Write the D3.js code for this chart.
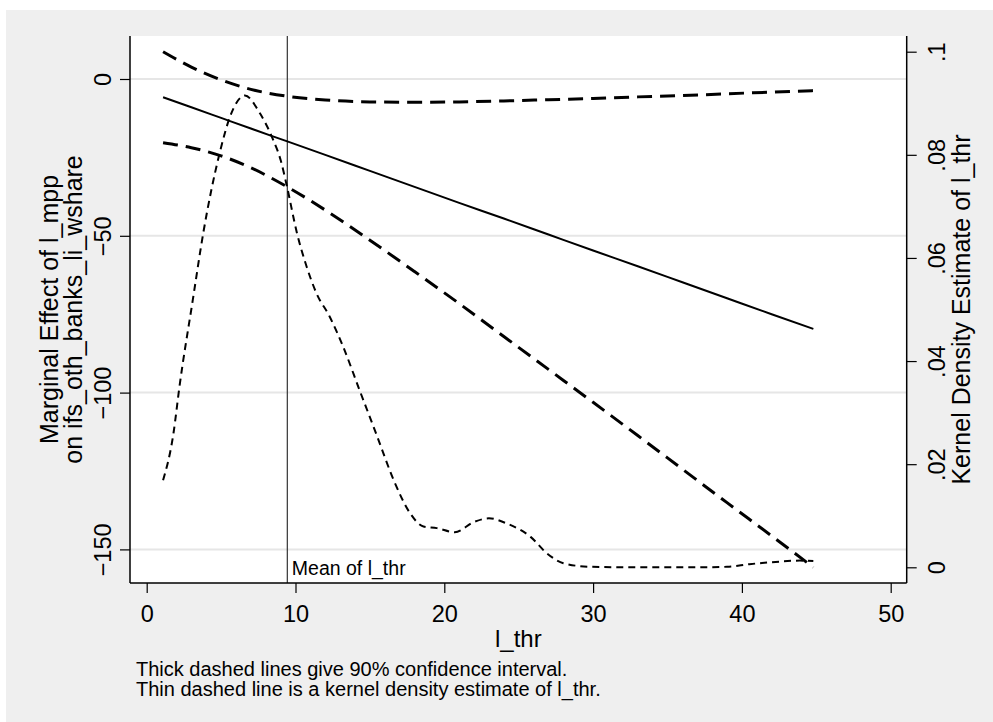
<!DOCTYPE html>
<html>
<head>
<meta charset="utf-8">
<script src="https://cdn.jsdelivr.net/npm/d3@7"></script>
<style>
  body { margin: 0; background: #fff; }
  svg { display: block; font-family: "Liberation Sans", Arial, sans-serif; }
</style>
</head>
<body>
<svg width="993" height="722"></svg>
<script>
// values
const xGrid = [1.1, 3, 5, 7, 9.45, 12, 15, 18, 21, 24, 27, 30, 33, 36, 39, 42, 44.8];
const marginalEffect = [-5.8, -9.0, -12.4, -15.8, -19.9, -24.2, -29.3, -34.4, -39.5, -44.5, -49.6, -54.7, -59.7, -64.8, -69.9, -75.0, -79.7];
const upperCI = [8.7, 3.8, -0.3, -3.3, -5.5, -6.7, -7.3, -7.4, -7.3, -7.0, -6.6, -6.2, -5.7, -5.3, -4.7, -4.2, -3.7];
const lowerCI = [-20.3, -21.9, -24.5, -28.3, -34.4, -41.8, -51.4, -61.4, -71.6, -82.1, -92.6, -103.1, -113.7, -124.4, -135.1, -145.7, -155.7];

const densX = [1.1, 1.8, 2.2, 3.1, 3.8, 4.9, 5.6, 6.6, 7.6, 8.5, 9.0, 9.4, 10.1, 10.75, 11.4, 12.3, 13.2, 14.3, 15.5, 16.6, 17.7, 18.6, 19.5, 20.7, 22.0, 23.0, 24.2, 25.8, 26.9, 28.0, 29.8, 33, 37, 39, 40.5, 42.5, 43.9, 44.8];
const densY = [.0169, .026, .035, .0519, .0648, .0803, .0874, .0915, .0881, .0829, .079, .0742, .0648, .0583, .0532, .0486, .0428, .0344, .0253, .0169, .0105, .0079, .0076, .0068, .0088, .0095, .0085, .0059, .0027, .0008, .0001, 0, 0, .0001, .0006, .0011, .0013, .0012];

const meanX = 9.45;
const xTicks = [0, 10, 20, 30, 40, 50];
const yTicks = [0, -50, -100, -150];
const densTicks = [0, .02, .04, .06, .08, .1];
const densTickLabels = ['0', '.02', '.04', '.06', '.08', '.1'];

const svg = d3.select('svg');

const plot = { left: 130, right: 906.7, top: 36, bottom: 583 };

const x = d3.scaleLinear().domain([0, 50]).range([146.7, 890.7]);
const y = d3.scaleLinear().domain([0, -150]).range([79, 549.4]);
const yd = d3.scaleLinear().domain([0, 0.1]).range([567.3, 51.7]);

// grey graph region + white plot region
svg.append('rect').attr('x', 6).attr('y', 10).attr('width', 987).attr('height', 712).attr('fill', '#efefef');
svg.append('rect').attr('x', plot.left).attr('y', plot.top)
  .attr('width', plot.right - plot.left).attr('height', plot.bottom - plot.top).attr('fill', '#fff');

// gridlines
svg.append('g').selectAll('line').data(yTicks).enter().append('line')
  .attr('x1', plot.left).attr('x2', plot.right)
  .attr('y1', d => y(d)).attr('y2', d => y(d))
  .attr('stroke', '#e6e6e6').attr('stroke-width', 2);

// mean line
svg.append('line')
  .attr('x1', x(meanX)).attr('x2', x(meanX))
  .attr('y1', plot.top).attr('y2', plot.bottom)
  .attr('stroke', '#333').attr('stroke-width', 1.2);
svg.append('text').attr('x', x(meanX) + 4.5).attr('y', 575)
  .attr('font-size', 19.5).text('Mean of l_thr');

const rows = xGrid.map((v, i) => ({ x: v, me: marginalEffect[i], up: upperCI[i], lo: lowerCI[i] }));

const line = key => d3.line().curve(d3.curveMonotoneX).x(d => x(d.x)).y(d => y(d[key]));

svg.append('path').datum(rows).attr('d', line('me'))
  .attr('fill', 'none').attr('stroke', '#000').attr('stroke-width', 2);
['up', 'lo'].forEach(k => {
  svg.append('path').datum(rows).attr('d', line(k))
    .attr('fill', 'none').attr('stroke', '#000').attr('stroke-width', 3)
    .attr('stroke-dasharray', '15,8');
});

const dens = densX.map((v, i) => ({ x: v, d: densY[i] }));
svg.append('path').datum(dens)
  .attr('d', d3.line().curve(d3.curveMonotoneX).x(d => x(d.x)).y(d => yd(d.d)))
  .attr('fill', 'none').attr('stroke', '#000').attr('stroke-width', 2)
  .attr('stroke-dasharray', '7,5');

// axes
function styleAxis(g) {
  g.select('.domain').attr('stroke', '#000').attr('stroke-width', 1.5);
  g.selectAll('.tick line').attr('stroke', '#000').attr('stroke-width', 1.2);
  g.selectAll('.tick text').attr('fill', '#000').attr('font-size', 23.5)
    .attr('font-family', '"Liberation Sans", Arial, sans-serif');
}

const xAxis = svg.append('g').attr('transform', `translate(0,${plot.bottom})`)
  .call(d3.axisBottom(x).tickValues(xTicks).tickSizeOuter(0).tickSize(10));
xAxis.select('.domain').remove();
xAxis.append('line').attr('class', 'domain').attr('x1', plot.left).attr('x2', plot.right);
styleAxis(xAxis);
xAxis.selectAll('.tick text').attr('y', 38.5).attr('dy', 0);

const yAxis = svg.append('g').attr('transform', `translate(${plot.left},0)`)
  .call(d3.axisLeft(y).tickValues(yTicks).tickSize(10));
yAxis.select('.domain').remove();
yAxis.append('line').attr('class', 'domain').attr('y1', plot.top).attr('y2', plot.bottom);
styleAxis(yAxis);
yAxis.selectAll('.tick text').attr('transform', 'rotate(-90)')
  .attr('x', 0).attr('y', -19.5).attr('dy', 0).attr('text-anchor', 'middle');

const rAxis = svg.append('g').attr('transform', `translate(${plot.right},0)`)
  .call(d3.axisRight(yd).tickValues(densTicks).tickSize(10).tickFormat((d, i) => densTickLabels[i]));
rAxis.select('.domain').remove();
rAxis.append('line').attr('class', 'domain').attr('y1', plot.top).attr('y2', plot.bottom);
styleAxis(rAxis);
rAxis.selectAll('.tick text').attr('transform', 'rotate(-90)')
  .attr('x', 0).attr('y', 38.3).attr('dy', 0).attr('text-anchor', 'middle');

// titles
const midY = (plot.top + plot.bottom) / 2;
svg.append('text').attr('transform', `translate(58,${midY}) rotate(-90)`)
  .attr('text-anchor', 'middle').attr('font-size', 25).text('Marginal Effect of l_mpp');
svg.append('text').attr('transform', `translate(82,${midY}) rotate(-90)`)
  .attr('text-anchor', 'middle').attr('font-size', 25).text('on ifs_oth_banks_li_wshare');
svg.append('text').attr('transform', `translate(970,${midY}) rotate(-90)`)
  .attr('text-anchor', 'middle').attr('font-size', 25).text('Kernel Density Estimate of l_thr');
svg.append('text').attr('x', (plot.left + plot.right) / 2).attr('y', 646.5)
  .attr('text-anchor', 'middle').attr('font-size', 24).text('l_thr');

// note
svg.append('text').attr('x', 136).attr('y', 676).attr('font-size', 20)
  .text('Thick dashed lines give 90% confidence interval.');
svg.append('text').attr('x', 136).attr('y', 696).attr('font-size', 20)
  .text('Thin dashed line is a kernel density estimate of l_thr.');
</script>
</body>
</html>
